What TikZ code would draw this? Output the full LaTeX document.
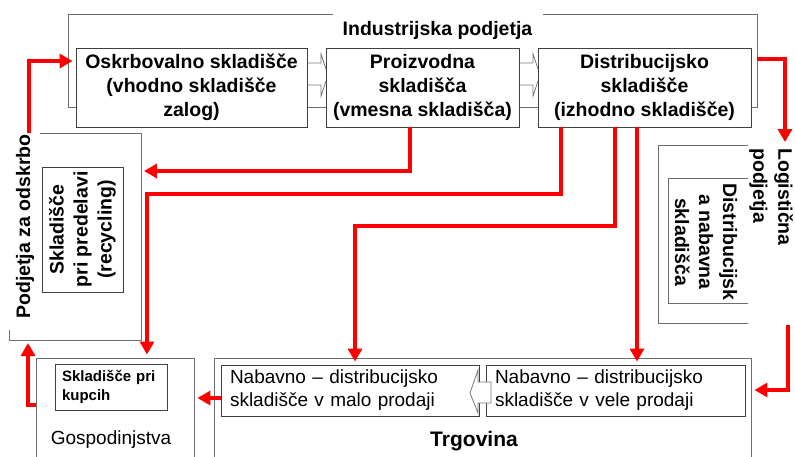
\documentclass[tikz,border=0pt]{standalone}
\usepackage{fontspec}
\setmainfont{Liberation Sans}
\usetikzlibrary{arrows.meta}

\definecolor{framec}{RGB}{110,110,110}
\definecolor{boxc}{RGB}{64,64,64}
\definecolor{flowc}{RGB}{255,0,0}
\definecolor{blockc}{RGB}{120,120,120}

\begin{document}
\begin{tikzpicture}[x=1pt,y=-1pt,
  bigbold/.style={font=\bfseries\fontsize{19.5}{24}\selectfont},
  frame/.style={draw=framec, line width=0.9pt},
  box/.style={draw=boxc, fill=white, line width=0.9pt, inner sep=0pt, align=center, bigbold},
  lbox/.style={draw=boxc, fill=white, line width=0.9pt, inner ysep=0pt, inner xsep=9pt, align=left,
    font=\fontsize{19}{23}\selectfont},
  blockarr/.style={draw=blockc, fill=white, line width=0.8pt, line join=miter},
  flow/.style={draw=flowc, line width=4.5pt, -{Triangle[length=13pt,width=14pt]}, shorten >=3pt}
]
\useasboundingbox (0,0) rectangle (795,456);

% --- industrial companies frame (open top around its title)
\draw[frame] (333,14) -- (68,14) -- (68,107) -- (757,107) -- (757,14) -- (543,14);
\node[bigbold] (indtitle) at (437.5,30) {Industrijska podjetja};

% --- supply companies frame
\draw[frame] (9,330) -- (9,340) -- (141,340) -- (141,133) -- (40,133);
\coordinate (podjT) at (29,133);
\coordinate (podjB) at (28,340);
\coordinate (podjE) at (141,171);
\node[bigbold, rotate=90] (podjtxt) at (25,226.5) {Podjetja za odskrbo};
\node[box, rotate=90, minimum width=125pt, minimum height=81pt] (recyc) at (82.5,229.5)
  {Skladišče\\pri predelavi\\(recycling)};

% --- logistics companies frame
\draw[frame] (748,145) -- (658,145) -- (658,323) -- (748,323);
\draw[frame] (748,178) -- (668,178) -- (668,303) -- (748,303);
\coordinate (logT) at (785,145);
\coordinate (logB) at (788,325);
\node[bigbold, rotate=-90, align=left, anchor=west, inner sep=2pt,
  font=\bfseries\fontsize{19.5}{25}\selectfont] (logtxt) at (771,146) {Logistična\\podjetja};
\node[bigbold, rotate=-90, align=center] (logbox) at (706,242)
  {Distribucijsk\\a nabavna\\skladišča};

% --- households and trade frames
\node[frame, minimum width=158pt, minimum height=104pt, inner sep=0pt] (gosp) at (115,410) {};
\node[frame, minimum width=537pt, minimum height=104pt, inner sep=0pt] (trg) at (482.5,410) {};
\node[font=\fontsize{19}{23}\selectfont] (gosptxt) at (111,440) {Gospodinjstva};
\node[font=\bfseries\fontsize{21}{25}\selectfont] (trgtxt) at (474,441) {Trgovina};

% --- block arrows between the warehouse boxes of industry
\draw[blockarr] (300,63) -- (321,63) -- (321,54) -- (328,75) -- (321,96) -- (321,85) -- (300,85) -- cycle;
\draw[blockarr] (512,63) -- (533,63) -- (533,54) -- (540,75) -- (533,96) -- (533,85) -- (512,85) -- cycle;

% --- warehouse boxes
\node[box, minimum width=231pt, minimum height=79pt] (oskrb) at (191.5,87.5)
  {Oskrbovalno skladišče\\(vhodno skladišče\\zalog)};
\node[box, minimum width=193pt, minimum height=79pt] (proiz) at (422.5,87.5)
  {Proizvodna\\skladišča\\(vmesna skladišča)};
\node[box, minimum width=213pt, minimum height=79pt] (distr) at (644.5,87.5)
  {Distribucijsko\\skladišče\\(izhodno skladišče)};
\node[lbox, text width=240pt, minimum height=51pt] (malo) at (350,390.5)
  {Nabavno – distribucijsko\\skladišče v malo prodaji};
\node[lbox, text width=241pt, minimum height=51pt] (vele) at (615.5,390.5)
  {Nabavno – distribucijsko\\skladišče v vele prodaji};
\node[lbox, inner xsep=7pt, text width=98pt, minimum height=46pt,
  font=\bfseries\fontsize{15}{19}\selectfont] (kupci) at (111,387)
  {Skladišče pri\\kupcih};

% --- block arrow from wholesale to retail
\draw[blockarr] (491,382) -- (478,382) -- (478,370) -- (470,393) -- (478,413) -- (478,403) -- (491,403) -- cycle;

% --- material flows
\draw[flow] (podjT) |- (oskrb.west |- 0,61);
\draw[flow] (gosp.west |- 0,405) -| (podjB);
\draw[flow] (malo.west |- 0,398) -- (gosp.east |- 0,398);
\draw[flow] (proiz.south -| 410,0) |- (podjE);
\draw[flow] (distr.south -| 561,0) -- (561,194) -| (gosp.north -| 147,0);
\draw[flow] (distr.south -| 615,0) -- (615,226) -| (malo.north -| 355,0);
\draw[flow] (distr.south -| 637,0) -- (vele.north -| 637,0);
\draw[flow] (757,59) -| (logT);
\draw[flow] (logB) |- (trg.east |- 0,390);
\end{tikzpicture}
\end{document}
